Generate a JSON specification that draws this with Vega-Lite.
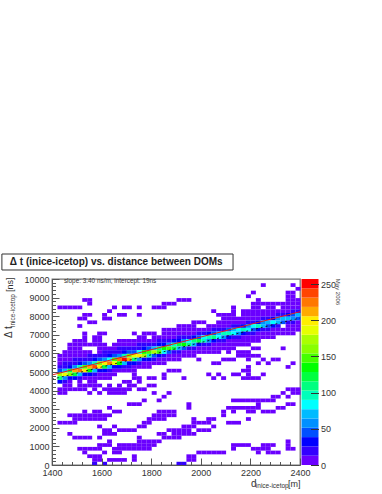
{"$schema":"https://vega.github.io/schema/vega-lite/v6.json","background":"white","bounds":"flush","padding":{"left":0,"top":252,"right":0,"bottom":0},"config":{"view":{"stroke":null},"font":"Liberation Sans","axis":{"grid":false,"labelFont":"Liberation Sans","labelFontSize":9,"labelColor":"#333","tickColor":"#555","domainColor":"#555"}},"spacing":1.5,"hconcat":[{"width":248,"height":186,"view":{"stroke":"#777","strokeWidth":1.3},"resolve":{"axis":{"x":"independent","y":"independent"}},"layer":[
{"data":{"values":[
{"d":2250,"t":9700,"n":5},{"d":2370,"t":9700,"n":5},{"d":2390,"t":9500,"n":5},{"d":2210,"t":9300,"n":5},{"d":2350,"t":9300,"n":5},{"d":2370,"t":9300,"n":5},{"d":2190,"t":9100,"n":5},{"d":2350,"t":9100,"n":5},{"d":2370,"t":9100,"n":5},
{"d":1530,"t":8900,"n":5},{"d":1550,"t":8900,"n":5},{"d":1910,"t":8900,"n":5},{"d":1930,"t":8900,"n":5},{"d":1950,"t":8900,"n":5},{"d":2230,"t":8900,"n":5},{"d":2350,"t":8900,"n":5},{"d":2370,"t":8900,"n":5},{"d":2390,"t":8900,"n":5},
{"d":1550,"t":8700,"n":5},{"d":1850,"t":8700,"n":5},{"d":1870,"t":8700,"n":5},{"d":1890,"t":8700,"n":5},{"d":2210,"t":8700,"n":5},{"d":2230,"t":8700,"n":5},{"d":2250,"t":8700,"n":5},{"d":2270,"t":8700,"n":5},{"d":2290,"t":8700,"n":5},{"d":2310,"t":8700,"n":5},{"d":2330,"t":8700,"n":5},{"d":2350,"t":8700,"n":5},{"d":2370,"t":8700,"n":5},{"d":2390,"t":8700,"n":5},
{"d":1430,"t":8500,"n":5},{"d":1450,"t":8500,"n":5},{"d":1470,"t":8500,"n":5},{"d":1490,"t":8500,"n":5},{"d":1510,"t":8500,"n":5},{"d":1650,"t":8500,"n":5},{"d":1690,"t":8500,"n":5},{"d":1710,"t":8500,"n":5},{"d":1750,"t":8500,"n":5},{"d":1810,"t":8500,"n":5},{"d":1830,"t":8500,"n":5},{"d":1850,"t":8500,"n":5},{"d":2130,"t":8500,"n":5},{"d":2210,"t":8500,"n":5},{"d":2230,"t":8500,"n":5},{"d":2270,"t":8500,"n":5},{"d":2290,"t":8500,"n":5},{"d":2330,"t":8500,"n":5},{"d":2350,"t":8500,"n":5},{"d":2370,"t":8500,"n":5},{"d":2390,"t":8500,"n":5},
{"d":1630,"t":8300,"n":5},{"d":2050,"t":8300,"n":5},{"d":2130,"t":8300,"n":5},{"d":2170,"t":8300,"n":5},{"d":2190,"t":8300,"n":5},{"d":2210,"t":8300,"n":5},{"d":2230,"t":8300,"n":5},{"d":2250,"t":8300,"n":5},{"d":2270,"t":8300,"n":5},{"d":2290,"t":8300,"n":5},{"d":2310,"t":8300,"n":5},{"d":2330,"t":8300,"n":5},{"d":2350,"t":8300,"n":5},{"d":2370,"t":8300,"n":14},{"d":2390,"t":8300,"n":19},
{"d":1530,"t":8100,"n":5},{"d":1550,"t":8100,"n":5},{"d":1610,"t":8100,"n":5},{"d":1670,"t":8100,"n":5},{"d":1690,"t":8100,"n":5},{"d":1750,"t":8100,"n":5},{"d":2070,"t":8100,"n":5},{"d":2090,"t":8100,"n":5},{"d":2110,"t":8100,"n":5},{"d":2130,"t":8100,"n":5},{"d":2170,"t":8100,"n":5},{"d":2190,"t":8100,"n":5},{"d":2210,"t":8100,"n":5},{"d":2230,"t":8100,"n":5},{"d":2250,"t":8100,"n":5},{"d":2270,"t":8100,"n":5},{"d":2290,"t":8100,"n":5},{"d":2310,"t":8100,"n":15},{"d":2330,"t":8100,"n":19},{"d":2350,"t":8100,"n":30},{"d":2370,"t":8100,"n":49},{"d":2390,"t":8100,"n":68},
{"d":1510,"t":7900,"n":5},{"d":1530,"t":7900,"n":5},{"d":1610,"t":7900,"n":5},{"d":1630,"t":7900,"n":5},{"d":2090,"t":7900,"n":5},{"d":2110,"t":7900,"n":5},{"d":2130,"t":7900,"n":5},{"d":2150,"t":7900,"n":5},{"d":2170,"t":7900,"n":5},{"d":2190,"t":7900,"n":5},{"d":2210,"t":7900,"n":5},{"d":2230,"t":7900,"n":5},{"d":2250,"t":7900,"n":16},{"d":2270,"t":7900,"n":21},{"d":2290,"t":7900,"n":34},{"d":2310,"t":7900,"n":55},{"d":2330,"t":7900,"n":68},{"d":2350,"t":7900,"n":75},{"d":2370,"t":7900,"n":64},{"d":2390,"t":7900,"n":41},
{"d":1550,"t":7700,"n":5},{"d":1570,"t":7700,"n":5},{"d":1970,"t":7700,"n":5},{"d":1990,"t":7700,"n":5},{"d":2010,"t":7700,"n":5},{"d":2070,"t":7700,"n":5},{"d":2090,"t":7700,"n":5},{"d":2110,"t":7700,"n":5},{"d":2130,"t":7700,"n":5},{"d":2150,"t":7700,"n":5},{"d":2170,"t":7700,"n":5},{"d":2190,"t":7700,"n":17},{"d":2210,"t":7700,"n":23},{"d":2230,"t":7700,"n":36},{"d":2250,"t":7700,"n":59},{"d":2270,"t":7700,"n":77},{"d":2290,"t":7700,"n":85},{"d":2310,"t":7700,"n":72},{"d":2330,"t":7700,"n":41},{"d":2350,"t":7700,"n":23},{"d":2370,"t":7700,"n":13},{"d":2390,"t":7700,"n":5},
{"d":1510,"t":7500,"n":5},{"d":1910,"t":7500,"n":5},{"d":1930,"t":7500,"n":5},{"d":1950,"t":7500,"n":5},{"d":1970,"t":7500,"n":5},{"d":2030,"t":7500,"n":5},{"d":2050,"t":7500,"n":5},{"d":2070,"t":7500,"n":5},{"d":2090,"t":7500,"n":5},{"d":2110,"t":7500,"n":5},{"d":2130,"t":7500,"n":18},{"d":2150,"t":7500,"n":24},{"d":2170,"t":7500,"n":38},{"d":2190,"t":7500,"n":62},{"d":2210,"t":7500,"n":81},{"d":2230,"t":7500,"n":90},{"d":2250,"t":7500,"n":77},{"d":2270,"t":7500,"n":47},{"d":2290,"t":7500,"n":26},{"d":2310,"t":7500,"n":13},{"d":2350,"t":7500,"n":5},{"d":2370,"t":7500,"n":5},{"d":2390,"t":7500,"n":5},
{"d":1850,"t":7300,"n":5},{"d":1870,"t":7300,"n":5},{"d":1890,"t":7300,"n":5},{"d":1910,"t":7300,"n":5},{"d":1930,"t":7300,"n":5},{"d":1950,"t":7300,"n":5},{"d":1970,"t":7300,"n":5},{"d":1990,"t":7300,"n":5},{"d":2010,"t":7300,"n":5},{"d":2030,"t":7300,"n":5},{"d":2050,"t":7300,"n":13},{"d":2070,"t":7300,"n":19},{"d":2090,"t":7300,"n":25},{"d":2110,"t":7300,"n":40},{"d":2130,"t":7300,"n":65},{"d":2150,"t":7300,"n":86},{"d":2170,"t":7300,"n":95},{"d":2190,"t":7300,"n":81},{"d":2210,"t":7300,"n":50},{"d":2230,"t":7300,"n":27},{"d":2250,"t":7300,"n":14},{"d":2270,"t":7300,"n":13},{"d":2290,"t":7300,"n":5},{"d":2310,"t":7300,"n":5},{"d":2330,"t":7300,"n":5},{"d":2350,"t":7300,"n":5},{"d":2370,"t":7300,"n":5},{"d":2390,"t":7300,"n":5},
{"d":1530,"t":7100,"n":5},{"d":1590,"t":7100,"n":5},{"d":1610,"t":7100,"n":5},{"d":1730,"t":7100,"n":5},{"d":1770,"t":7100,"n":5},{"d":1790,"t":7100,"n":5},{"d":1810,"t":7100,"n":5},{"d":1850,"t":7100,"n":5},{"d":1870,"t":7100,"n":5},{"d":1890,"t":7100,"n":5},{"d":1910,"t":7100,"n":5},{"d":1930,"t":7100,"n":5},{"d":1950,"t":7100,"n":5},{"d":1970,"t":7100,"n":5},{"d":1990,"t":7100,"n":14},{"d":2010,"t":7100,"n":22},{"d":2030,"t":7100,"n":26},{"d":2050,"t":7100,"n":42},{"d":2070,"t":7100,"n":68},{"d":2090,"t":7100,"n":90},{"d":2110,"t":7100,"n":100},{"d":2130,"t":7100,"n":85},{"d":2150,"t":7100,"n":52},{"d":2170,"t":7100,"n":29},{"d":2190,"t":7100,"n":14},{"d":2210,"t":7100,"n":14},{"d":2230,"t":7100,"n":5},{"d":2250,"t":7100,"n":5},{"d":2270,"t":7100,"n":5},{"d":2290,"t":7100,"n":5},{"d":2310,"t":7100,"n":5},{"d":2330,"t":7100,"n":5},{"d":2350,"t":7100,"n":5},{"d":2370,"t":7100,"n":5},
{"d":1530,"t":6900,"n":5},{"d":1570,"t":6900,"n":5},{"d":1590,"t":6900,"n":5},{"d":1750,"t":6900,"n":5},{"d":1770,"t":6900,"n":5},{"d":1810,"t":6900,"n":5},{"d":1830,"t":6900,"n":5},{"d":1850,"t":6900,"n":5},{"d":1870,"t":6900,"n":5},{"d":1890,"t":6900,"n":5},{"d":1910,"t":6900,"n":13},{"d":1930,"t":6900,"n":16},{"d":1950,"t":6900,"n":23},{"d":1970,"t":6900,"n":30},{"d":1990,"t":6900,"n":48},{"d":2010,"t":6900,"n":78},{"d":2030,"t":6900,"n":95},{"d":2050,"t":6900,"n":105},{"d":2070,"t":6900,"n":89},{"d":2090,"t":6900,"n":55},{"d":2110,"t":6900,"n":30},{"d":2130,"t":6900,"n":15},{"d":2150,"t":6900,"n":14},{"d":2170,"t":6900,"n":5},{"d":2190,"t":6900,"n":5},{"d":2210,"t":6900,"n":5},{"d":2230,"t":6900,"n":5},{"d":2250,"t":6900,"n":5},{"d":2270,"t":6900,"n":5},{"d":2290,"t":6900,"n":5},
{"d":1490,"t":6700,"n":5},{"d":1510,"t":6700,"n":5},{"d":1530,"t":6700,"n":5},{"d":1570,"t":6700,"n":5},{"d":1590,"t":6700,"n":5},{"d":1670,"t":6700,"n":5},{"d":1690,"t":6700,"n":5},{"d":1710,"t":6700,"n":5},{"d":1730,"t":6700,"n":5},{"d":1750,"t":6700,"n":5},{"d":1770,"t":6700,"n":5},{"d":1790,"t":6700,"n":5},{"d":1810,"t":6700,"n":8},{"d":1830,"t":6700,"n":14},{"d":1850,"t":6700,"n":15},{"d":1870,"t":6700,"n":18},{"d":1890,"t":6700,"n":27},{"d":1910,"t":6700,"n":33},{"d":1930,"t":6700,"n":52},{"d":1950,"t":6700,"n":85},{"d":1970,"t":6700,"n":108},{"d":1990,"t":6700,"n":120},{"d":2010,"t":6700,"n":102},{"d":2030,"t":6700,"n":58},{"d":2050,"t":6700,"n":32},{"d":2070,"t":6700,"n":16},{"d":2090,"t":6700,"n":15},{"d":2110,"t":6700,"n":5},{"d":2130,"t":6700,"n":5},{"d":2150,"t":6700,"n":5},{"d":2170,"t":6700,"n":5},{"d":2190,"t":6700,"n":5},{"d":2210,"t":6700,"n":5},{"d":2230,"t":6700,"n":5},
{"d":1470,"t":6500,"n":5},{"d":1490,"t":6500,"n":5},{"d":1510,"t":6500,"n":5},{"d":1530,"t":6500,"n":5},{"d":1550,"t":6500,"n":5},{"d":1570,"t":6500,"n":5},{"d":1590,"t":6500,"n":5},{"d":1610,"t":6500,"n":5},{"d":1650,"t":6500,"n":5},{"d":1670,"t":6500,"n":5},{"d":1690,"t":6500,"n":5},{"d":1710,"t":6500,"n":5},{"d":1730,"t":6500,"n":8},{"d":1750,"t":6500,"n":14},{"d":1770,"t":6500,"n":16},{"d":1790,"t":6500,"n":17},{"d":1810,"t":6500,"n":20},{"d":1830,"t":6500,"n":31},{"d":1850,"t":6500,"n":38},{"d":1870,"t":6500,"n":60},{"d":1890,"t":6500,"n":98},{"d":1910,"t":6500,"n":117},{"d":1930,"t":6500,"n":130},{"d":1950,"t":6500,"n":111},{"d":1970,"t":6500,"n":66},{"d":1990,"t":6500,"n":36},{"d":2010,"t":6500,"n":18},{"d":2030,"t":6500,"n":16},{"d":2050,"t":6500,"n":5},{"d":2070,"t":6500,"n":5},{"d":2090,"t":6500,"n":5},{"d":2110,"t":6500,"n":5},{"d":2130,"t":6500,"n":5},{"d":2150,"t":6500,"n":5},{"d":2170,"t":6500,"n":5},{"d":2190,"t":6500,"n":5},
{"d":1470,"t":6300,"n":5},{"d":1490,"t":6300,"n":5},{"d":1510,"t":6300,"n":5},{"d":1590,"t":6300,"n":5},{"d":1610,"t":6300,"n":5},{"d":1630,"t":6300,"n":5},{"d":1650,"t":6300,"n":5},{"d":1670,"t":6300,"n":15},{"d":1690,"t":6300,"n":18},{"d":1710,"t":6300,"n":20},{"d":1730,"t":6300,"n":20},{"d":1750,"t":6300,"n":24},{"d":1770,"t":6300,"n":36},{"d":1790,"t":6300,"n":43},{"d":1810,"t":6300,"n":68},{"d":1830,"t":6300,"n":110},{"d":1850,"t":6300,"n":135},{"d":1870,"t":6300,"n":150},{"d":1890,"t":6300,"n":128},{"d":1910,"t":6300,"n":72},{"d":1930,"t":6300,"n":39},{"d":1950,"t":6300,"n":20},{"d":1970,"t":6300,"n":18},{"d":1990,"t":6300,"n":5},{"d":2010,"t":6300,"n":5},{"d":2030,"t":6300,"n":5},{"d":2050,"t":6300,"n":5},{"d":2070,"t":6300,"n":5},{"d":2090,"t":6300,"n":5},{"d":2110,"t":6300,"n":5},{"d":2130,"t":6300,"n":5},{"d":2210,"t":6300,"n":5},{"d":2230,"t":6300,"n":5},{"d":2330,"t":6300,"n":5},
{"d":1450,"t":6100,"n":5},{"d":1470,"t":6100,"n":5},{"d":1490,"t":6100,"n":5},{"d":1510,"t":6100,"n":5},{"d":1530,"t":6100,"n":5},{"d":1550,"t":6100,"n":5},{"d":1590,"t":6100,"n":5},{"d":1610,"t":6100,"n":13},{"d":1630,"t":6100,"n":15},{"d":1650,"t":6100,"n":18},{"d":1670,"t":6100,"n":25},{"d":1690,"t":6100,"n":30},{"d":1710,"t":6100,"n":45},{"d":1730,"t":6100,"n":50},{"d":1750,"t":6100,"n":80},{"d":1770,"t":6100,"n":130},{"d":1790,"t":6100,"n":153},{"d":1810,"t":6100,"n":170},{"d":1830,"t":6100,"n":145},{"d":1850,"t":6100,"n":83},{"d":1870,"t":6100,"n":45},{"d":1890,"t":6100,"n":23},{"d":1910,"t":6100,"n":20},{"d":1930,"t":6100,"n":5},{"d":1950,"t":6100,"n":5},{"d":1970,"t":6100,"n":5},{"d":1990,"t":6100,"n":5},{"d":2010,"t":6100,"n":5},{"d":2030,"t":6100,"n":5},{"d":2050,"t":6100,"n":5},{"d":2070,"t":6100,"n":5},{"d":2110,"t":6100,"n":5},{"d":2150,"t":6100,"n":5},{"d":2170,"t":6100,"n":5},{"d":2190,"t":6100,"n":5},
{"d":1430,"t":5900,"n":5},{"d":1450,"t":5900,"n":5},{"d":1470,"t":5900,"n":5},{"d":1490,"t":5900,"n":9},{"d":1510,"t":5900,"n":9},{"d":1530,"t":5900,"n":12},{"d":1550,"t":5900,"n":14},{"d":1570,"t":5900,"n":17},{"d":1590,"t":5900,"n":19},{"d":1610,"t":5900,"n":22},{"d":1630,"t":5900,"n":26},{"d":1650,"t":5900,"n":40},{"d":1670,"t":5900,"n":63},{"d":1690,"t":5900,"n":100},{"d":1710,"t":5900,"n":162},{"d":1730,"t":5900,"n":180},{"d":1750,"t":5900,"n":200},{"d":1770,"t":5900,"n":170},{"d":1790,"t":5900,"n":94},{"d":1810,"t":5900,"n":51},{"d":1830,"t":5900,"n":26},{"d":1850,"t":5900,"n":23},{"d":1870,"t":5900,"n":12},{"d":1890,"t":5900,"n":5},{"d":1910,"t":5900,"n":5},{"d":1930,"t":5900,"n":5},{"d":1950,"t":5900,"n":5},{"d":1970,"t":5900,"n":5},{"d":2150,"t":5900,"n":5},{"d":2170,"t":5900,"n":5},{"d":2190,"t":5900,"n":5},{"d":2210,"t":5900,"n":5},{"d":2230,"t":5900,"n":5},
{"d":1430,"t":5700,"n":5},{"d":1450,"t":5700,"n":10},{"d":1470,"t":5700,"n":10},{"d":1490,"t":5700,"n":14},{"d":1510,"t":5700,"n":16},{"d":1530,"t":5700,"n":18},{"d":1550,"t":5700,"n":24},{"d":1570,"t":5700,"n":29},{"d":1590,"t":5700,"n":43},{"d":1610,"t":5700,"n":55},{"d":1630,"t":5700,"n":88},{"d":1650,"t":5700,"n":143},{"d":1670,"t":5700,"n":225},{"d":1690,"t":5700,"n":252},{"d":1710,"t":5700,"n":212},{"d":1730,"t":5700,"n":110},{"d":1750,"t":5700,"n":60},{"d":1770,"t":5700,"n":30},{"d":1790,"t":5700,"n":26},{"d":1810,"t":5700,"n":14},{"d":1830,"t":5700,"n":5},{"d":1850,"t":5700,"n":5},{"d":1870,"t":5700,"n":5},{"d":1890,"t":5700,"n":5},{"d":1910,"t":5700,"n":5},{"d":1990,"t":5700,"n":5},{"d":2090,"t":5700,"n":5},{"d":2110,"t":5700,"n":5},{"d":2130,"t":5700,"n":5},{"d":2190,"t":5700,"n":5},{"d":2250,"t":5700,"n":5},{"d":2290,"t":5700,"n":5},{"d":2310,"t":5700,"n":5},
{"d":1430,"t":5500,"n":11},{"d":1450,"t":5500,"n":13},{"d":1470,"t":5500,"n":15},{"d":1490,"t":5500,"n":23},{"d":1510,"t":5500,"n":28},{"d":1530,"t":5500,"n":41},{"d":1550,"t":5500,"n":60},{"d":1570,"t":5500,"n":96},{"d":1590,"t":5500,"n":156},{"d":1610,"t":5500,"n":198},{"d":1630,"t":5500,"n":220},{"d":1650,"t":5500,"n":187},{"d":1670,"t":5500,"n":138},{"d":1690,"t":5500,"n":75},{"d":1710,"t":5500,"n":38},{"d":1730,"t":5500,"n":30},{"d":1750,"t":5500,"n":16},{"d":1770,"t":5500,"n":10},{"d":1790,"t":5500,"n":5},{"d":1810,"t":5500,"n":5},{"d":1830,"t":5500,"n":5},{"d":1850,"t":5500,"n":5},{"d":2050,"t":5500,"n":5},{"d":2070,"t":5500,"n":5},{"d":2230,"t":5500,"n":5},{"d":2270,"t":5500,"n":5},{"d":2370,"t":5500,"n":5},
{"d":1430,"t":5300,"n":19},{"d":1450,"t":5300,"n":23},{"d":1470,"t":5300,"n":34},{"d":1490,"t":5300,"n":58},{"d":1510,"t":5300,"n":92},{"d":1530,"t":5300,"n":150},{"d":1550,"t":5300,"n":216},{"d":1570,"t":5300,"n":240},{"d":1590,"t":5300,"n":204},{"d":1610,"t":5300,"n":121},{"d":1630,"t":5300,"n":66},{"d":1650,"t":5300,"n":33},{"d":1670,"t":5300,"n":38},{"d":1690,"t":5300,"n":20},{"d":1710,"t":5300,"n":13},{"d":1730,"t":5300,"n":5},{"d":1750,"t":5300,"n":5},{"d":1770,"t":5300,"n":5},{"d":1790,"t":5300,"n":5},{"d":2190,"t":5300,"n":5},{"d":2350,"t":5300,"n":5},
{"d":1430,"t":5100,"n":48},{"d":1450,"t":5100,"n":76},{"d":1470,"t":5100,"n":124},{"d":1490,"t":5100,"n":207},{"d":1510,"t":5100,"n":230},{"d":1530,"t":5100,"n":196},{"d":1550,"t":5100,"n":132},{"d":1570,"t":5100,"n":72},{"d":1590,"t":5100,"n":36},{"d":1610,"t":5100,"n":33},{"d":1630,"t":5100,"n":18},{"d":1650,"t":5100,"n":11},{"d":1670,"t":5100,"n":5},{"d":1690,"t":5100,"n":5},{"d":1710,"t":5100,"n":5},{"d":1730,"t":5100,"n":5},{"d":1870,"t":5100,"n":5},{"d":1890,"t":5100,"n":5},{"d":1910,"t":5100,"n":5},{"d":2170,"t":5100,"n":5},{"d":2190,"t":5100,"n":5},
{"d":1430,"t":4900,"n":171},{"d":1450,"t":4900,"n":190},{"d":1470,"t":4900,"n":162},{"d":1490,"t":4900,"n":127},{"d":1510,"t":4900,"n":69},{"d":1530,"t":4900,"n":35},{"d":1550,"t":4900,"n":36},{"d":1570,"t":4900,"n":19},{"d":1590,"t":4900,"n":12},{"d":1610,"t":4900,"n":5},{"d":1630,"t":4900,"n":5},{"d":1650,"t":4900,"n":5},{"d":1730,"t":4900,"n":5},{"d":1850,"t":4900,"n":5},{"d":2030,"t":4900,"n":5},{"d":2070,"t":4900,"n":5},{"d":2130,"t":4900,"n":5},{"d":2150,"t":4900,"n":5},{"d":2190,"t":4900,"n":5},{"d":2250,"t":4900,"n":5},
{"d":1430,"t":4700,"n":105},{"d":1450,"t":4700,"n":57},{"d":1470,"t":4700,"n":29},{"d":1490,"t":4700,"n":35},{"d":1510,"t":4700,"n":18},{"d":1530,"t":4700,"n":12},{"d":1550,"t":4700,"n":5},{"d":1570,"t":4700,"n":5},{"d":1590,"t":4700,"n":5},{"d":1610,"t":4700,"n":5},{"d":1630,"t":4700,"n":5},{"d":1730,"t":4700,"n":5},{"d":1750,"t":4700,"n":5},{"d":1790,"t":4700,"n":5},{"d":1810,"t":4700,"n":5},{"d":1850,"t":4700,"n":5},{"d":1930,"t":4700,"n":5},{"d":2050,"t":4700,"n":5},{"d":2090,"t":4700,"n":5},{"d":2170,"t":4700,"n":5},{"d":2190,"t":4700,"n":5},{"d":2210,"t":4700,"n":5},{"d":2230,"t":4700,"n":5},
{"d":1430,"t":4500,"n":28},{"d":1450,"t":4500,"n":15},{"d":1470,"t":4500,"n":10},{"d":1510,"t":4500,"n":5},{"d":1550,"t":4500,"n":5},{"d":1570,"t":4500,"n":5},{"d":1690,"t":4500,"n":5},{"d":1710,"t":4500,"n":5},{"d":1750,"t":4500,"n":5},
{"d":1450,"t":4300,"n":5},{"d":1470,"t":4300,"n":5},{"d":1510,"t":4300,"n":5},{"d":1530,"t":4300,"n":5},{"d":1550,"t":4300,"n":5},{"d":1570,"t":4300,"n":5},{"d":1590,"t":4300,"n":5},{"d":1630,"t":4300,"n":5},{"d":1670,"t":4300,"n":5},{"d":1710,"t":4300,"n":5},{"d":1730,"t":4300,"n":5},{"d":1790,"t":4300,"n":5},{"d":1810,"t":4300,"n":5},
{"d":1430,"t":4100,"n":5},{"d":1450,"t":4100,"n":5},{"d":1470,"t":4100,"n":5},{"d":1490,"t":4100,"n":5},{"d":1510,"t":4100,"n":5},{"d":1530,"t":4100,"n":5},{"d":1570,"t":4100,"n":5},{"d":1610,"t":4100,"n":5},{"d":1630,"t":4100,"n":5},{"d":1650,"t":4100,"n":5},{"d":1670,"t":4100,"n":5},{"d":1690,"t":4100,"n":5},{"d":1710,"t":4100,"n":5},{"d":1750,"t":4100,"n":5},{"d":1770,"t":4100,"n":5},{"d":2350,"t":4100,"n":5},{"d":2370,"t":4100,"n":5},{"d":2390,"t":4100,"n":5},
{"d":1430,"t":3900,"n":5},{"d":1450,"t":3900,"n":5},{"d":1550,"t":3900,"n":5},{"d":1590,"t":3900,"n":5},{"d":1630,"t":3900,"n":5},{"d":1650,"t":3900,"n":5},{"d":1670,"t":3900,"n":5},{"d":1690,"t":3900,"n":5},{"d":1810,"t":3900,"n":5},{"d":1870,"t":3900,"n":5},{"d":2330,"t":3900,"n":5},{"d":2370,"t":3900,"n":5},{"d":2390,"t":3900,"n":5},
{"d":1850,"t":3700,"n":5},{"d":2290,"t":3700,"n":5},{"d":2310,"t":3700,"n":5},{"d":2350,"t":3700,"n":5},
{"d":1770,"t":3500,"n":5},{"d":1830,"t":3500,"n":5},{"d":2130,"t":3500,"n":5},{"d":2150,"t":3500,"n":5},{"d":2170,"t":3500,"n":5},{"d":2190,"t":3500,"n":5},{"d":2210,"t":3500,"n":5},{"d":2230,"t":3500,"n":5},{"d":2250,"t":3500,"n":5},{"d":2270,"t":3500,"n":5},{"d":2290,"t":3500,"n":5},
{"d":1710,"t":3300,"n":5},{"d":1730,"t":3300,"n":5},{"d":1750,"t":3300,"n":5},{"d":1950,"t":3300,"n":5},{"d":2230,"t":3300,"n":5},{"d":2350,"t":3300,"n":5},{"d":2370,"t":3300,"n":5},
{"d":1630,"t":3100,"n":5},{"d":1950,"t":3100,"n":5},{"d":2110,"t":3100,"n":5},{"d":2130,"t":3100,"n":5},{"d":2150,"t":3100,"n":5},{"d":2170,"t":3100,"n":5},{"d":2190,"t":3100,"n":5},{"d":2210,"t":3100,"n":5},{"d":2230,"t":3100,"n":5},{"d":2310,"t":3100,"n":5},{"d":2330,"t":3100,"n":5},
{"d":1530,"t":2900,"n":5},{"d":1570,"t":2900,"n":5},{"d":1590,"t":2900,"n":5},{"d":1650,"t":2900,"n":5},{"d":1670,"t":2900,"n":5},{"d":1830,"t":2900,"n":5},{"d":1850,"t":2900,"n":5},{"d":1870,"t":2900,"n":5},{"d":1890,"t":2900,"n":5},{"d":2090,"t":2900,"n":5},{"d":2130,"t":2900,"n":5},{"d":2190,"t":2900,"n":5},{"d":2210,"t":2900,"n":5},{"d":2250,"t":2900,"n":5},{"d":2270,"t":2900,"n":5},{"d":2290,"t":2900,"n":5},
{"d":1470,"t":2700,"n":5},{"d":1490,"t":2700,"n":5},{"d":1510,"t":2700,"n":5},{"d":1530,"t":2700,"n":5},{"d":1550,"t":2700,"n":5},{"d":1570,"t":2700,"n":5},{"d":1590,"t":2700,"n":5},{"d":1610,"t":2700,"n":5},{"d":1630,"t":2700,"n":5},{"d":1810,"t":2700,"n":5},{"d":1830,"t":2700,"n":5},{"d":1850,"t":2700,"n":5},{"d":1870,"t":2700,"n":5},{"d":1890,"t":2700,"n":5},{"d":2090,"t":2700,"n":5},
{"d":1490,"t":2500,"n":5},{"d":1510,"t":2500,"n":5},{"d":1530,"t":2500,"n":5},{"d":1550,"t":2500,"n":5},{"d":1570,"t":2500,"n":5},{"d":1590,"t":2500,"n":5},{"d":1610,"t":2500,"n":5},{"d":1790,"t":2500,"n":5},{"d":1810,"t":2500,"n":5},{"d":1830,"t":2500,"n":5},{"d":1850,"t":2500,"n":5},{"d":1970,"t":2500,"n":5},{"d":2030,"t":2500,"n":5},{"d":2050,"t":2500,"n":5},{"d":2190,"t":2500,"n":5},
{"d":1430,"t":2300,"n":5},{"d":1450,"t":2300,"n":5},{"d":1470,"t":2300,"n":5},{"d":1490,"t":2300,"n":5},{"d":1770,"t":2300,"n":5},{"d":1790,"t":2300,"n":5},{"d":1970,"t":2300,"n":5},{"d":1990,"t":2300,"n":5},{"d":2010,"t":2300,"n":5},{"d":2030,"t":2300,"n":5},{"d":2110,"t":2300,"n":5},{"d":2130,"t":2300,"n":5},{"d":2150,"t":2300,"n":5},
{"d":1590,"t":2100,"n":5},{"d":1650,"t":2100,"n":5},{"d":1750,"t":2100,"n":5},{"d":1770,"t":2100,"n":5},{"d":1930,"t":2100,"n":5},{"d":1950,"t":2100,"n":5},{"d":1970,"t":2100,"n":5},{"d":2050,"t":2100,"n":5},
{"d":1610,"t":1900,"n":5},{"d":1630,"t":1900,"n":5},{"d":1670,"t":1900,"n":5},{"d":1690,"t":1900,"n":5},{"d":1710,"t":1900,"n":5},{"d":1730,"t":1900,"n":5},{"d":1870,"t":1900,"n":5},{"d":1890,"t":1900,"n":5},{"d":1910,"t":1900,"n":5},{"d":1930,"t":1900,"n":5},{"d":1950,"t":1900,"n":5},{"d":1990,"t":1900,"n":5},{"d":2010,"t":1900,"n":5},{"d":2030,"t":1900,"n":5},
{"d":1470,"t":1700,"n":5},{"d":1610,"t":1700,"n":5},{"d":1630,"t":1700,"n":5},{"d":1650,"t":1700,"n":5},{"d":1830,"t":1700,"n":5},{"d":1850,"t":1700,"n":5},{"d":1890,"t":1700,"n":5},{"d":1910,"t":1700,"n":5},{"d":1930,"t":1700,"n":5},{"d":1950,"t":1700,"n":5},{"d":1970,"t":1700,"n":5},
{"d":1490,"t":1500,"n":5},{"d":1510,"t":1500,"n":5},{"d":1530,"t":1500,"n":5},{"d":1550,"t":1500,"n":5},{"d":1590,"t":1500,"n":5},{"d":1750,"t":1500,"n":5},{"d":1850,"t":1500,"n":5},{"d":1870,"t":1500,"n":5},{"d":1890,"t":1500,"n":5},{"d":1910,"t":1500,"n":5},
{"d":1630,"t":1300,"n":5},{"d":1750,"t":1300,"n":5},{"d":1770,"t":1300,"n":5},{"d":1790,"t":1300,"n":5},{"d":1810,"t":1300,"n":5},{"d":1830,"t":1300,"n":5},{"d":2350,"t":1300,"n":5},
{"d":1590,"t":1100,"n":5},{"d":1610,"t":1100,"n":5},{"d":1630,"t":1100,"n":5},{"d":1670,"t":1100,"n":5},{"d":1690,"t":1100,"n":5},{"d":1710,"t":1100,"n":5},{"d":1730,"t":1100,"n":5},{"d":1750,"t":1100,"n":5},{"d":1770,"t":1100,"n":5},{"d":1790,"t":1100,"n":5},{"d":1810,"t":1100,"n":5},{"d":2130,"t":1100,"n":5},{"d":2150,"t":1100,"n":5},{"d":2170,"t":1100,"n":5},{"d":2190,"t":1100,"n":5},{"d":2250,"t":1100,"n":5},{"d":2270,"t":1100,"n":5},{"d":2290,"t":1100,"n":5},{"d":2350,"t":1100,"n":5},
{"d":1510,"t":900,"n":5},{"d":1530,"t":900,"n":5},{"d":1550,"t":900,"n":5},{"d":1570,"t":900,"n":5},{"d":1590,"t":900,"n":5},{"d":1650,"t":900,"n":5},{"d":1670,"t":900,"n":5},{"d":1690,"t":900,"n":5},{"d":1710,"t":900,"n":5},{"d":1730,"t":900,"n":5},{"d":1750,"t":900,"n":5},{"d":1770,"t":900,"n":5},{"d":1790,"t":900,"n":5},{"d":2130,"t":900,"n":5},{"d":2210,"t":900,"n":5},{"d":2230,"t":900,"n":5},{"d":2250,"t":900,"n":5},{"d":2270,"t":900,"n":5},{"d":2350,"t":900,"n":5},{"d":2370,"t":900,"n":5},
{"d":1530,"t":700,"n":5},{"d":1610,"t":700,"n":5},{"d":1650,"t":700,"n":5},{"d":1670,"t":700,"n":5},{"d":1990,"t":700,"n":5},{"d":2010,"t":700,"n":5},{"d":2030,"t":700,"n":5},{"d":2050,"t":700,"n":5},{"d":2070,"t":700,"n":5},{"d":2090,"t":700,"n":5},{"d":2230,"t":700,"n":5},{"d":2270,"t":700,"n":5},{"d":2290,"t":700,"n":5},{"d":2310,"t":700,"n":5},
{"d":1550,"t":500,"n":5},{"d":1570,"t":500,"n":5},{"d":1590,"t":500,"n":5},{"d":1730,"t":500,"n":5},{"d":1950,"t":500,"n":5},{"d":1970,"t":500,"n":5},
{"d":1570,"t":300,"n":5},{"d":1590,"t":300,"n":5},{"d":1630,"t":300,"n":5},{"d":1650,"t":300,"n":5},{"d":1670,"t":300,"n":5},{"d":1690,"t":300,"n":5},{"d":1730,"t":300,"n":5},{"d":1950,"t":300,"n":5},{"d":1970,"t":300,"n":5},
{"d":1570,"t":100,"n":16},{"d":1610,"t":100,"n":16},{"d":1910,"t":100,"n":16},{"d":1930,"t":100,"n":16}
]},"mark":{"type":"rect"},"encoding":{
"x":{"field":"d","bin":{"step":20,"extent":[1400,2400]},"type":"quantitative","scale":{"domain":[1400,2400],"nice":false,"zero":false},"axis":{"values":[1400,1600,1800,2000,2200,2400],"title":null,"tickSize":-7,"labelPadding":10,"format":"d","labelFlush":false,"orient":"bottom"}},
"y":{"field":"t","bin":{"step":200,"extent":[0,10000]},"type":"quantitative","scale":{"domain":[0,10000],"nice":false,"zero":false},"axis":{"values":[0,1000,2000,3000,4000,5000,6000,7000,8000,9000,10000],"title":null,"tickSize":-7,"labelPadding":10,"format":"d","labelFlush":false,"orient":"left"}},
"color":{"field":"n","type":"quantitative","legend":null,"scale":{"type":"threshold","domain":[12.85,25.7,38.55,51.4,64.25,77.1,89.95,102.8,115.65,128.5,141.35,154.2,167.05,179.9,192.75,205.6,218.45,231.3,244.15],"range":["#6a00ff","#3300ff","#0000ff","#0050ff","#0090ff","#00bbff","#00ffff","#00ffbb","#00ff80","#00ff40","#00ff00","#44ff00","#88ff00","#aaff00","#e6ff00","#ffee00","#ffaa00","#ff7700","#ff4400","#ff0000"]}}}},
{"data":{"values":[{"x":1400,"y":4840},{"x":2400,"y":8240}]},"mark":{"type":"line","color":"#e0201a","strokeWidth":1},"encoding":{"x":{"field":"x","type":"quantitative","axis":{"values":[1440,1480,1520,1560,1640,1680,1720,1760,1840,1880,1920,1960,2040,2080,2120,2160,2240,2280,2320,2360],"title":null,"labels":false,"domain":false,"tickSize":-3.5,"orient":"bottom"}},"y":{"field":"y","type":"quantitative","axis":{"values":[200,400,600,800,1200,1400,1600,1800,2200,2400,2600,2800,3200,3400,3600,3800,4200,4400,4600,4800,5200,5400,5600,5800,6200,6400,6600,6800,7200,7400,7600,7800,8200,8400,8600,8800,9200,9400,9600,9800],"title":null,"labels":false,"domain":false,"tickSize":-3.5,"orient":"left"}}}},
{"data":{"values":[{"x":1400,"y":4610},{"x":2400,"y":7900}]},"mark":{"type":"line","color":"#111","strokeWidth":0.9,"strokeDash":[2,3]},"encoding":{"x":{"field":"x","type":"quantitative","axis":null},"y":{"field":"y","type":"quantitative","axis":null}}},
{"data":{"values":[{"a":1198,"b":2130,"c":10484,"e":11344}]},"mark":{"type":"rect","fill":"white","stroke":"#333","strokeWidth":1},"encoding":{"x":{"field":"a","type":"quantitative","axis":null},"x2":{"field":"b"},"y":{"field":"c","type":"quantitative","axis":null},"y2":{"field":"e"}}},
{"data":{"values":[{"x":1230,"y":10890,"s":"Δ t (inice-icetop) vs. distance between DOMs"}]},"mark":{"type":"text","align":"left","baseline":"middle","fontWeight":"bold","fontSize":10,"font":"Liberation Sans","color":"#222"},"encoding":{"x":{"field":"x","type":"quantitative","axis":null},"y":{"field":"y","type":"quantitative","axis":null},"text":{"field":"s"}}},
{"data":{"values":[{"x":1448,"y":9890,"s":"slope: 3.40 ns/m, intercept:  19ns"}]},"mark":{"type":"text","align":"left","baseline":"middle","fontSize":6.4,"font":"Liberation Sans","color":"#333"},"encoding":{"x":{"field":"x","type":"quantitative","axis":null},"y":{"field":"y","type":"quantitative","axis":null},"text":{"field":"s"}}},
{"data":{"values":[{"x":2553,"y":9300,"s":"May 2006"}]},"mark":{"type":"text","align":"center","baseline":"middle","fontSize":6,"angle":90,"font":"Liberation Sans","color":"#444"},"encoding":{"x":{"field":"x","type":"quantitative","axis":null},"y":{"field":"y","type":"quantitative","axis":null},"text":{"field":"s"}}},
{"data":{"values":[{"x":1227,"y":6830,"s":"Δ t"}]},"mark":{"type":"text","align":"left","baseline":"middle","fontSize":10,"angle":270,"font":"Liberation Sans","color":"#333"},"encoding":{"x":{"field":"x","type":"quantitative","axis":null},"y":{"field":"y","type":"quantitative","axis":null},"text":{"field":"s"}}},
{"data":{"values":[{"x":2202,"y":-1010,"s":"d"}]},"mark":{"type":"text","align":"left","baseline":"middle","fontSize":10,"font":"Liberation Sans","color":"#333"},"encoding":{"x":{"field":"x","type":"quantitative","axis":null},"y":{"field":"y","type":"quantitative","axis":null},"text":{"field":"s"}}},
{"data":{"values":[{"x":1243,"y":7420,"s":"inice-icetop"}]},"mark":{"type":"text","align":"left","baseline":"middle","fontSize":6.5,"angle":270,"font":"Liberation Sans","color":"#333"},"encoding":{"x":{"field":"x","type":"quantitative","axis":null},"y":{"field":"y","type":"quantitative","axis":null},"text":{"field":"s"}}},
{"data":{"values":[{"x":2222,"y":-1120,"s":"inice-icetop"}]},"mark":{"type":"text","align":"left","baseline":"middle","fontSize":6.5,"font":"Liberation Sans","color":"#333"},"encoding":{"x":{"field":"x","type":"quantitative","axis":null},"y":{"field":"y","type":"quantitative","axis":null},"text":{"field":"s"}}},
{"data":{"values":[{"x":1229,"y":9300,"s":"[ns]"}]},"mark":{"type":"text","align":"left","baseline":"middle","fontSize":9,"angle":270,"font":"Liberation Sans","color":"#333"},"encoding":{"x":{"field":"x","type":"quantitative","axis":null},"y":{"field":"y","type":"quantitative","axis":null},"text":{"field":"s"}}},
{"data":{"values":[{"x":2352,"y":-1010,"s":"[m]"}]},"mark":{"type":"text","align":"left","baseline":"middle","fontSize":9,"font":"Liberation Sans","color":"#333"},"encoding":{"x":{"field":"x","type":"quantitative","axis":null},"y":{"field":"y","type":"quantitative","axis":null},"text":{"field":"s"}}}
]},
{"width":17,"height":186,"data":{"values":[{"lo":0,"hi":12.85,"n":6},{"lo":12.85,"hi":25.7,"n":19},{"lo":25.7,"hi":38.55,"n":32},{"lo":38.55,"hi":51.4,"n":45},{"lo":51.4,"hi":64.25,"n":58},{"lo":64.25,"hi":77.1,"n":71},{"lo":77.1,"hi":89.95,"n":84},{"lo":89.95,"hi":102.8,"n":96},{"lo":102.8,"hi":115.65,"n":109},{"lo":115.65,"hi":128.5,"n":122},{"lo":128.5,"hi":141.35,"n":135},{"lo":141.35,"hi":154.2,"n":148},{"lo":154.2,"hi":167.05,"n":161},{"lo":167.05,"hi":179.9,"n":173},{"lo":179.9,"hi":192.75,"n":186},{"lo":192.75,"hi":205.6,"n":199},{"lo":205.6,"hi":218.45,"n":212},{"lo":218.45,"hi":231.3,"n":225},{"lo":231.3,"hi":244.15,"n":238},{"lo":244.15,"hi":257,"n":250}]},"mark":{"type":"rect"},"encoding":{"y":{"field":"lo","type":"quantitative","scale":{"domain":[0,257],"nice":false,"zero":false},"axis":{"orient":"right","values":[0,50,100,150,200,250],"title":null,"domain":false,"tickSize":-8,"labelPadding":10,"tickColor":"#333","labelFlush":false,"zindex":1}},"y2":{"field":"hi"},"color":{"field":"n","type":"quantitative","legend":null,"scale":{"type":"threshold","domain":[12.85,25.7,38.55,51.4,64.25,77.1,89.95,102.8,115.65,128.5,141.35,154.2,167.05,179.9,192.75,205.6,218.45,231.3,244.15],"range":["#6a00ff","#3300ff","#0000ff","#0050ff","#0090ff","#00bbff","#00ffff","#00ffbb","#00ff80","#00ff40","#00ff00","#44ff00","#88ff00","#aaff00","#e6ff00","#ffee00","#ffaa00","#ff7700","#ff4400","#ff0000"]}}}}
],"resolve":{"scale":{"color":"shared"}}}
